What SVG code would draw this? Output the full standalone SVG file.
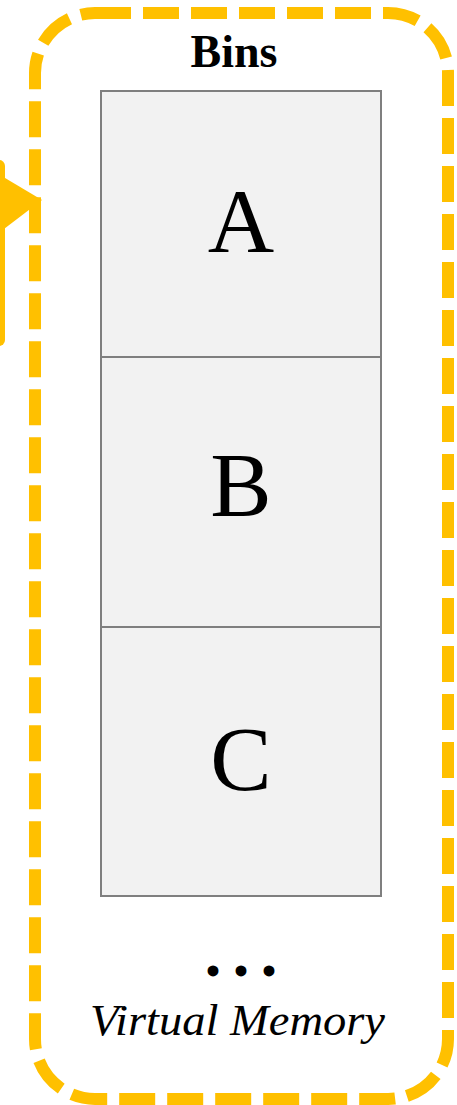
<svg xmlns="http://www.w3.org/2000/svg" width="457" height="1105" viewBox="0 0 457 1105">
  <style>
    .bin { fill: #F2F2F2; stroke: #7F7F7F; stroke-width: 2; }
    .letter { font-family: "Liberation Serif", "Times New Roman", serif; font-size: 92px; fill: #000; text-anchor: middle; }
    .title { font-family: "Liberation Serif", "Times New Roman", serif; font-size: 46px; font-weight: bold; fill: #000; text-anchor: middle; }
    .caption { font-family: "Liberation Serif", "Times New Roman", serif; font-size: 45px; font-style: italic; fill: #000; text-anchor: middle; }
    .orange { fill: #FFC000; }
  </style>
  <rect width="457" height="1105" fill="#FFFFFF"/>
  <g id="container">
    <rect x="35" y="13" width="413" height="1086" rx="60" ry="60" fill="none" stroke="#FFC000" stroke-width="12" stroke-dasharray="36 12"/>
    <text class="title" x="234" y="67">Bins</text>
  </g>
  <g id="connectors">
    <rect class="orange" x="-12" y="160" width="17" height="186" rx="6" ry="6"/>
    <polygon class="orange" points="0,175 42,200 0,232"/>
  </g>
  <g id="bin-a">
    <rect class="bin" x="101" y="91" width="280" height="266"/>
    <text class="letter" x="241" y="252">A</text>
  </g>
  <g id="bin-b">
    <rect class="bin" x="101" y="357" width="280" height="270"/>
    <text class="letter" x="241" y="516">B</text>
  </g>
  <g id="bin-c">
    <rect class="bin" x="101" y="627" width="280" height="269"/>
    <text class="letter" x="241" y="790">C</text>
  </g>
  <g id="more">
    <text x="248" y="985" font-family="Liberation Serif, serif" font-size="40" font-weight="bold" text-anchor="middle" letter-spacing="14">•••</text>
  </g>
  <g id="caption">
    <text class="caption" x="237.5" y="1035" textLength="295" lengthAdjust="spacingAndGlyphs">Virtual Memory</text>
  </g>
</svg>
